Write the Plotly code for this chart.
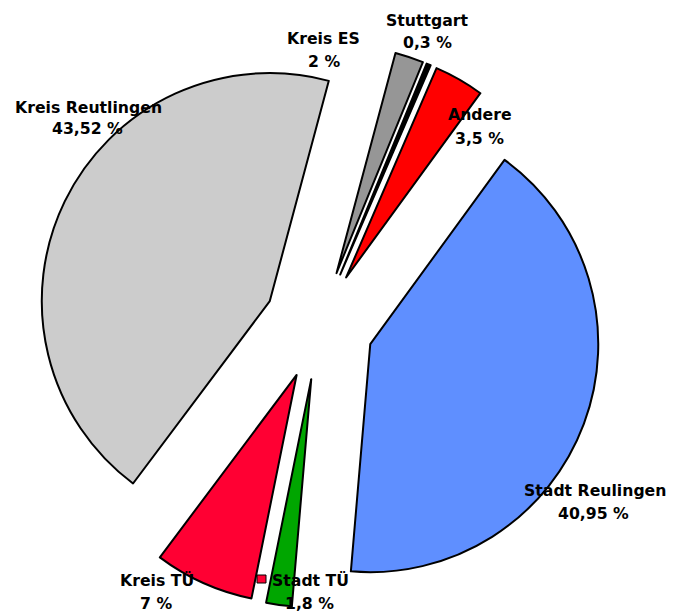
import plotly.graph_objects as go

# Data
categories = ["Kreis ES", "Stuttgart", "Andere", "Stadt Reulingen", "Stadt TÜ", "Kreis TÜ", "Kreis Reutlingen"]
values = [2, 0.3, 3.5, 40.95, 1.8, 7, 43.52]
value_labels = ["2 %", "0,3 %", "3,5 %", "40,95 %", "1,8 %", "7 %", "43,52 %"]

colors = ["#969696", "#000000", "#FF0000", "#5F8FFF", "#00A600", "#FF0033", "#CCCCCC"]

W, H = 681, 614
OFF = 8  # page body margin


def fx(px):
    return (px - OFF) / W


def fy(py):
    return 1 - (py - OFF) / H


# pie geometry in page pixels
cx, cy, r, pull = 319, 325, 228, 0.24
half = r * (1 + pull)
dom_x = [fx(cx - half), fx(cx + half)]
dom_y = [fy(cy + half), fy(cy - half)]

fig = go.Figure(go.Pie(
    labels=categories,
    values=values,
    sort=False,
    direction="clockwise",
    rotation=15,
    pull=[pull] * len(values),
    marker=dict(colors=colors, line=dict(color="#000000", width=2)),
    textinfo="none",
    hoverinfo="label+value",
    showlegend=False,
    domain=dict(x=dom_x, y=dom_y),
))

# label positions (page-pixel centres of name line and value line)
label_pos = {
    "Kreis ES": (323, 38, 324, 61),
    "Stuttgart": (427, 20, 427, 42),
    "Andere": (480, 115, 479, 138),
    "Stadt Reulingen": (595, 490, 593, 513),
    "Stadt TÜ": (310, 580, 309, 603),
    "Kreis TÜ": (157, 580, 156, 603),
    "Kreis Reutlingen": (88, 108, 87, 129),
}

font = dict(family="DejaVu Sans, Arial, sans-serif", size=15.7, color="#000000", weight="bold")
annotations = []
for name, val in zip(categories, value_labels):
    x1, y1, x2, y2 = label_pos[name]
    for txt, x, y in ((name, x1, y1), (val, x2, y2)):
        annotations.append(dict(
            text=txt, x=fx(x), y=fy(y), xref="paper", yref="paper",
            xanchor="center", yanchor="middle", showarrow=False, font=font,
        ))

shapes = [dict(type="rect", xref="paper", yref="paper",
               x0=fx(257), x1=fx(266), y0=fy(583), y1=fy(575),
               fillcolor="#FF0033", line=dict(color="#000000", width=1))]

fig.update_layout(
    width=W, height=H,
    margin=dict(l=0, r=0, t=0, b=0),
    paper_bgcolor="#FFFFFF",
    plot_bgcolor="#FFFFFF",
    annotations=annotations,
    shapes=shapes,
)

fig.write_html("out.html")
